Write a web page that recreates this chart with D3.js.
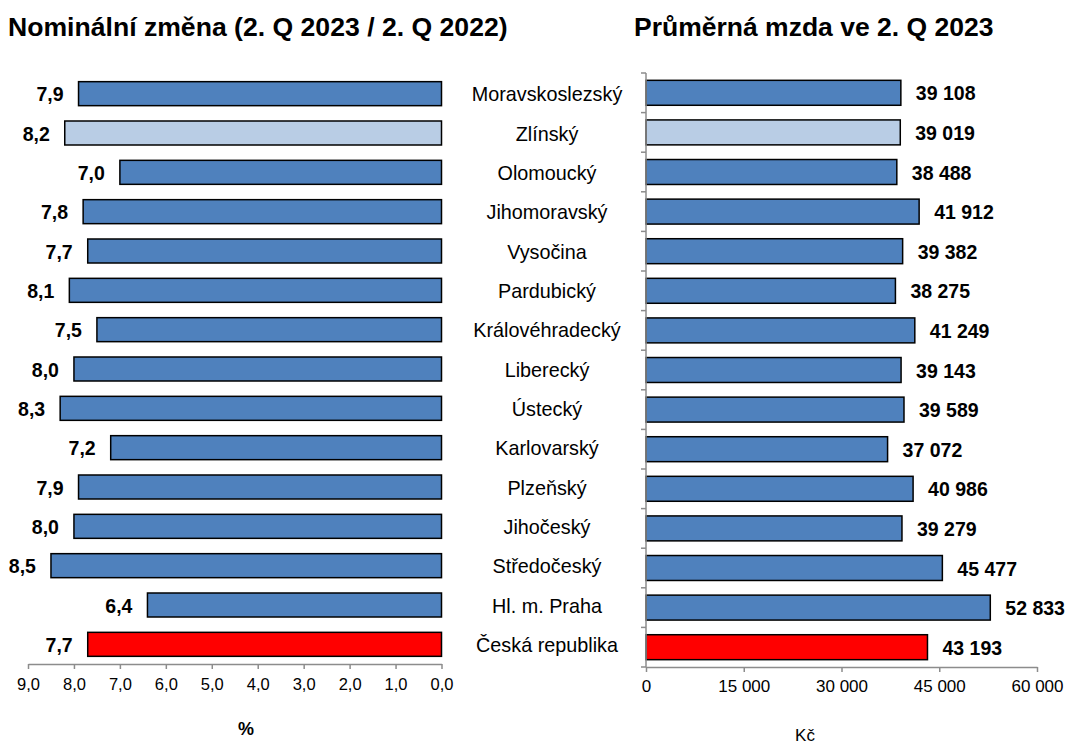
<!DOCTYPE html>
<html><head><meta charset="utf-8">
<script src="https://cdn.jsdelivr.net/npm/d3@7"></script>
<style>body{margin:0;background:#fff}svg{display:block}text{font-family:"Liberation Sans",Arial,sans-serif}</style>
</head><body>
<svg id="c" width="1068" height="745"></svg>
<script>
const regions = ["Moravskoslezský","Zlínský","Olomoucký","Jihomoravský","Vysočina","Pardubický","Královéhradecký","Liberecký","Ústecký","Karlovarský","Plzeňský","Jihočeský","Středočeský","Hl. m. Praha","Česká republika"];
const nominalChange = [7.9,8.2,7.0,7.8,7.7,8.1,7.5,8.0,8.3,7.2,7.9,8.0,8.5,6.4,7.7];
const avgWage = [39108,39019,38488,41912,39382,38275,41249,39143,39589,37072,40986,39279,45477,52833,43193];
const leftTicks = [9,8,7,6,5,4,3,2,1,0];
const rightTicks = [0,15000,30000,45000,60000];
const highlight = {"Zlínský":"#B9CDE5","Česká republika":"#FF0000"};
const baseColor = "#4F81BD";

const svg = d3.select("#c");
const axisColor = "#8c8c8c";
const fmtPct = d => d.toFixed(1).replace(".", ",");
const fmtKc = d => d3.format(",")(d).replace(/,/g, "\u00a0");
const color = d => highlight[d] || baseColor;

// titles
svg.append("text").attr("x",8).attr("y",36).attr("font-size",26.6).attr("font-weight","bold")
  .text("Nominální změna (2. Q 2023 / 2. Q 2022)");
svg.append("text").attr("x",634).attr("y",36).attr("font-size",26.5).attr("font-weight","bold")
  .text("Průměrná mzda ve 2. Q 2023");

// LEFT chart
const xL = d3.scaleLinear().domain([9,0]).range([28,441.5]);
const yL = d3.scaleBand().domain(regions).range([74,664]).paddingInner(0.39).paddingOuter(0.195);
const gL = svg.append("g");
gL.selectAll("rect").data(regions).join("rect")
  .attr("x", (d,i)=>xL(nominalChange[i])).attr("y", d=>yL(d))
  .attr("width", (d,i)=>xL(0)-xL(nominalChange[i])).attr("height", yL.bandwidth())
  .attr("fill", color).attr("stroke","#000").attr("stroke-width",1.5);
gL.selectAll("text.v").data(regions).join("text").attr("class","v")
  .attr("x",(d,i)=>xL(nominalChange[i])-15).attr("y", d=>yL(d)+yL.bandwidth()/2+7.5)
  .attr("text-anchor","end").attr("font-size",19.5).attr("font-weight","bold")
  .text((d,i)=>fmtPct(nominalChange[i]));
const axL = svg.append("g").attr("transform","translate(0,664)")
  .call(d3.axisBottom(xL).tickValues(leftTicks).tickFormat(fmtPct).tickSize(5).tickSizeOuter(0));
axL.select(".domain").attr("stroke",axisColor).attr("stroke-width",1.5);
axL.selectAll(".tick line").attr("stroke",axisColor).attr("stroke-width",1.5);
axL.selectAll(".tick text").attr("font-size",16.5).attr("fill","#000").attr("font-family","Liberation Sans, Arial, sans-serif").attr("dy",0).attr("y",26);
svg.append("text").attr("x",246).attr("y",735).attr("text-anchor","middle").attr("font-size",18).attr("font-weight","bold").text("%");

// category labels
svg.append("g").selectAll("text").data(regions).join("text")
  .attr("x",547).attr("y",d=>yL(d)+yL.bandwidth()/2+7.5)
  .attr("text-anchor","middle").attr("font-size",19.8).text(d=>d);

// RIGHT chart
const xR = d3.scaleLinear().domain([0,60000]).range([646,1037]);
const yR = d3.scaleBand().domain(regions).range([73,667]).paddingInner(0.37).paddingOuter(0.185);
const gR = svg.append("g");
gR.selectAll("rect").data(regions).join("rect")
  .attr("x", xR(0)).attr("y", d=>yR(d))
  .attr("width", (d,i)=>xR(avgWage[i])-xR(0)).attr("height", yR.bandwidth())
  .attr("fill", color).attr("stroke","#000").attr("stroke-width",1.5);
gR.selectAll("text.v").data(regions).join("text").attr("class","v")
  .attr("x",(d,i)=>xR(avgWage[i])+15).attr("y", d=>yR(d)+yR.bandwidth()/2+7.5)
  .attr("font-size",19.5).attr("font-weight","bold")
  .text((d,i)=>fmtKc(avgWage[i]));
const axR = svg.append("g").attr("transform","translate(0,667)")
  .call(d3.axisBottom(xR).tickValues(rightTicks).tickFormat(fmtKc).tickSize(5).tickSizeOuter(0));
axR.select(".domain").attr("stroke",axisColor).attr("stroke-width",1.5);
axR.selectAll(".tick line").attr("stroke",axisColor).attr("stroke-width",1.5);
axR.selectAll(".tick text").attr("font-size",17).attr("fill","#000").attr("font-family","Liberation Sans, Arial, sans-serif").attr("dy",0).attr("y",25);
// vertical category axis with boundary ticks
const bounds = d3.range(regions.length+1).map(i => 73 + i*yR.step());
const vax = svg.append("g");
vax.append("line").attr("x1",646).attr("x2",646).attr("y1",73).attr("y2",667).attr("stroke",axisColor).attr("stroke-width",1.5);
vax.selectAll("line.t").data(bounds).join("line").attr("class","t")
  .attr("x1",641).attr("x2",646).attr("y1",d=>d).attr("y2",d=>d).attr("stroke",axisColor).attr("stroke-width",1.5);
svg.append("text").attr("x",805).attr("y",741).attr("text-anchor","middle").attr("font-size",17).text("Kč");
</script>
</body></html>
